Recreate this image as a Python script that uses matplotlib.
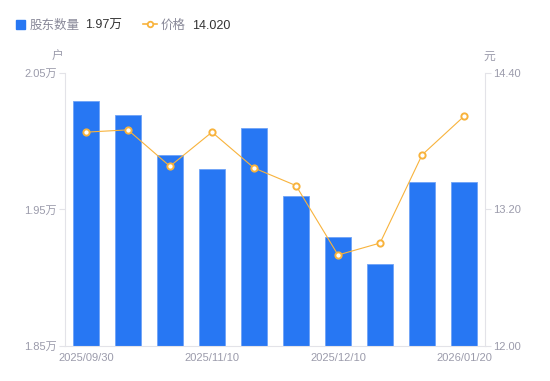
import matplotlib
matplotlib.use("Agg")
import matplotlib.pyplot as plt
from matplotlib.lines import Line2D

plt.rcParams['font.family'] = ['Liberation Sans', 'Noto Sans CJK SC', 'DejaVu Sans']

dates = ["2025/09/30", "2025/10/20", "2025/10/31", "2025/11/10", "2025/11/20",
         "2025/11/28", "2025/12/10", "2025/12/19", "2025/12/31", "2026/01/20"]
holders = [2.0295, 2.0192, 1.9899, 1.9797, 2.0097, 1.9599, 1.9299, 1.9101, 1.9701, 1.9701]
price = [13.88, 13.90, 13.58, 13.88, 13.565, 13.41, 12.80, 12.905, 13.68, 14.02]
left_ticks = [1.85, 1.95, 2.05]
left_labels = ["1.85万", "1.95万", "2.05万"]
right_ticks = [12.00, 13.20, 14.40]
right_labels = ["12.00", "13.20", "14.40"]
shown_idx = [0, 3, 6, 9]

BLUE = "#2777f3"
ORANGE = "#f8b33c"
GRAY = "#9b9bab"
AXC = "#e3e3e8"

fig = plt.figure(figsize=(5.5, 3.81), dpi=100)
ax = fig.add_axes([0.118, 0.0919, 0.764, 0.7165])
x = list(range(len(dates)))
ax.bar(x, holders, width=0.6, color=BLUE, edgecolor="#6fa3f7", linewidth=0.6, zorder=2)
ax.set_xlim(-0.5, 9.5)
ax.set_ylim(1.85, 2.05)
ax.set_yticks(left_ticks)
ax.set_yticklabels(left_labels)
ax.set_xticks([x[i] for i in shown_idx])
ax.set_xticklabels([dates[i] for i in shown_idx])
for s in ["top", "right"]:
    ax.spines[s].set_visible(False)
for s in ["left", "bottom"]:
    ax.spines[s].set_color(AXC)
ax.tick_params(axis="y", colors=AXC, labelcolor=GRAY, labelsize=8, length=4, pad=2)
ax.tick_params(axis="x", length=0, labelcolor=GRAY, labelsize=8, pad=5)

ax2 = ax.twinx()
ax2.plot(x, price, color=ORANGE, linewidth=0.8, marker="o", markersize=4.5,
         markerfacecolor="white", markeredgecolor=ORANGE, markeredgewidth=1.4, zorder=3)
ax2.set_ylim(12.0, 14.4)
ax2.set_yticks(right_ticks)
ax2.set_yticklabels(right_labels)
for s in ["top", "left", "bottom"]:
    ax2.spines[s].set_visible(False)
ax2.spines["right"].set_color(AXC)
ax2.tick_params(axis="y", colors=AXC, labelcolor=GRAY, labelsize=8, length=4, pad=2)

fig.text(58 / 550, 1 - 57 / 381, "户", color=GRAY, fontsize=8.5, ha="center", va="center")
fig.text(489 / 550, 1 - 57 / 381, "元", color=GRAY, fontsize=8.5, ha="center", va="center")

# legend
ty = 1 - 26 / 381
fig.patches.append(plt.Rectangle((16 / 550, 1 - 29 / 381), 9 / 550, 9 / 381,
                                 transform=fig.transFigure, color=BLUE, figure=fig))
fig.text(30 / 550, ty, "股东数量", color="#888898", fontsize=9, va="center")
fig.text(85 / 550, ty, "1.97万", color="#333333", fontsize=9, va="center")
fig.add_artist(Line2D([143 / 550, 157 / 550], [1 - 24 / 381, 1 - 24 / 381],
                      transform=fig.transFigure, color=ORANGE, linewidth=1.2))
fig.add_artist(Line2D([150 / 550], [1 - 24 / 381], transform=fig.transFigure,
                      marker="o", markersize=4, markerfacecolor="white",
                      markeredgecolor=ORANGE, markeredgewidth=1.3))
fig.text(161 / 550, ty, "价格", color="#888898", fontsize=9, va="center")
fig.text(192 / 550, ty, "14.020", color="#333333", fontsize=9, va="center")

fig.savefig("out.png", dpi=100)
